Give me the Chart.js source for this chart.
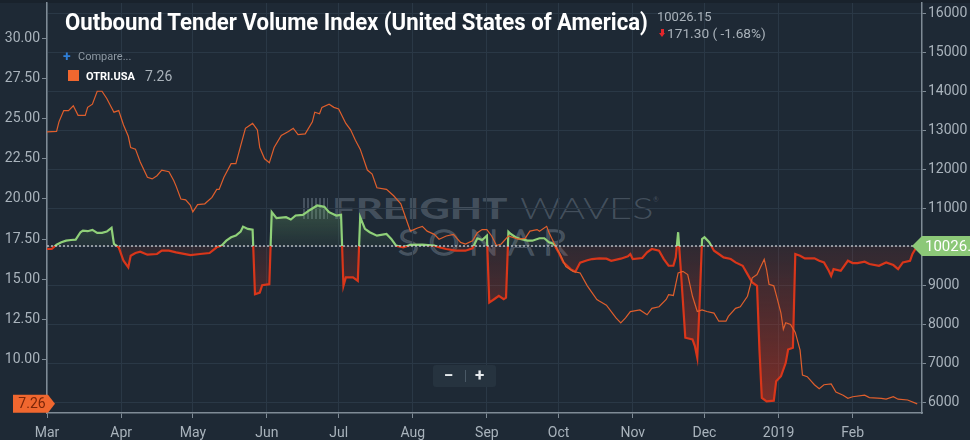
<!DOCTYPE html>
<html>
<head>
<meta charset="utf-8">
<script src="https://cdn.jsdelivr.net/npm/chart.js@4.4.1/dist/chart.umd.min.js"></script>
<style>
  html, body { margin: 0; padding: 0; background: #1e2935; }
  #wrap { position: relative; width: 970px; height: 440px; background: #1e2935; overflow: hidden; font-family: Roboto, sans-serif; }
  #topbar { position: absolute; left: 0; top: 0; width: 970px; height: 3px; background: #19222c; }
  #chart { position: absolute; left: 0; top: 0; }
  .ov { position: absolute; white-space: nowrap; pointer-events: none; transform-origin: 0 0; }
  #title { left: 65px; top: 10px; font: 700 24px/24px Roboto, sans-serif; color: #fff; }
  #last { left: 657px; top: 10px; font: 13px/13px Roboto, sans-serif; color: #a9b2ba; }
  #chg { left: 667px; top: 27px; font: 13px/13px Roboto, sans-serif; color: #a9b2ba; }
  #arrow { position: absolute; left: 659px; top: 29px; width: 7px; height: 8px; }
  #arrow:before { content: ''; position: absolute; left: 2px; top: 0; width: 3px; height: 4px; background: #e3262b; }
  #arrow:after { content: ''; position: absolute; left: 0; top: 4px; border-left: 3.5px solid transparent; border-right: 3.5px solid transparent; border-top: 4px solid #e3262b; }
  #cmpPlus { left: 63px; top: 49px; font: 700 14px/14px Roboto, sans-serif; color: #2f7fd8; }
  #cmp { left: 78px; top: 51px; font: 11px/11px Roboto, sans-serif; color: #8e99a3; }
  #sw { position: absolute; left: 68px; top: 70px; width: 11px; height: 11px; background: #f0672f; }
  #otriName { left: 86px; top: 71px; font: 700 11px/11px Roboto, sans-serif; color: #fff; }
  #otriVal { left: 145px; top: 69px; font: 14px/14px Roboto, sans-serif; color: #a9b2ba; }
  #bars { position: absolute; left: 303px; top: 198px; width: 25px; height: 21px;
    background: repeating-linear-gradient(90deg, rgba(150,165,180,0.32) 0 2px, transparent 2px 4px); }
  #wmBold { left: 332px; top: 193px; font: 900 29px/29px Lato, sans-serif; color: rgba(150,165,180,0.32); }
  #wmLight { left: 520px; top: 193px; font: 300 29px/29px Lato, sans-serif; color: rgba(150,165,180,0.32); }
  #wmReg { left: 653px; top: 196px; font: 7px/7px Lato, sans-serif; color: rgba(150,165,180,0.32); }
  #wmSonar { left: 398px; top: 224px; font: 300 35px/35px Lato, sans-serif; color: transparent;
    -webkit-text-stroke: 1.5px rgba(150,165,180,0.36); letter-spacing: 8px; }
  #zoomBox { position: absolute; left: 433px; top: 365px; width: 63px; height: 22px; background: #26333f; border-radius: 3px; }
  #zoomBox span { position: absolute; top: 2px; font: 700 17px/17px Roboto, sans-serif; color: #e8ecef; }
  #zoomBox i { position: absolute; left: 32px; top: 5px; width: 1px; height: 12px; background: #4a5966; }
</style>
</head>
<body>
<div id="wrap">
  <div id="topbar"></div>
  <div id="bars"></div>
  <div class="ov" id="wmBold">FREIGHT</div>
  <div class="ov" id="wmLight">WAVES</div>
  <div class="ov" id="wmReg">®</div>
  <div class="ov" id="wmSonar">SONAR</div>
  <canvas id="chart" width="970" height="440"></canvas>
  <div class="ov" id="title">Outbound Tender Volume Index (United States of America)</div>
  <div class="ov" id="last">10026.15</div>
  <div id="arrow"></div>
  <div class="ov" id="chg">171.30 ( -1.68%)</div>
  <div class="ov" id="cmpPlus">+</div>
  <div class="ov" id="cmp">Compare...</div>
  <div id="sw"></div>
  <div class="ov" id="otriName">OTRI.USA</div>
  <div class="ov" id="otriVal">7.26</div>
  <div id="zoomBox"><span style="left:11px">−</span><i></i><span style="left:42px">+</span></div>
</div>
<script>
// x values are days counted from 2018-03-01
const monthDays = [0, 31, 61, 92, 122, 153, 184, 214, 245, 275, 306, 337];
const monthLabels = ['Mar', 'Apr', 'May', 'Jun', 'Jul', 'Aug', 'Sep', 'Oct', 'Nov', 'Dec', '2019', 'Feb'];
const otriTicks = [10, 12.5, 15, 17.5, 20, 22.5, 25, 27.5, 30];
const volTicks = [6000, 7000, 8000, 9000, 10000, 11000, 12000, 13000, 14000, 15000, 16000];

const volBaseline = 10026.15;
const otriLast = 7.26;

// OTRI.USA (left axis) [day, value]
const otriSeries = [
  [0, 24.17], [4, 24.2], [5, 24.8], [7, 25.5], [9, 25.5], [11, 25.8], [13, 25.2], [16, 25.2],
  [17, 25.7], [19, 25.9], [21, 26.7], [23, 26.7], [25, 26.25], [28, 25.4], [30, 25.5], [32, 24.6],
  [34, 23.9], [35, 23.2], [37, 23.1], [39, 22.3], [42, 21.35], [44, 21.25], [46, 21.45], [48, 21.8],
  [51, 21.7], [53, 21.15], [54, 20.8], [56, 20.0], [58, 19.95], [60, 19.6], [61, 19.2], [63, 19.65],
  [66, 19.7], [69, 20.1], [71, 20.6], [72, 20.6], [74, 21.35], [77, 22.2], [79, 22.2], [81, 23.3],
  [83, 24.4], [86, 24.7], [88, 24.3], [89, 23.2], [91, 22.5], [93, 22.25], [95, 23.2], [98, 23.95],
  [101, 24.2], [103, 24.4], [105, 24.0], [108, 24.05], [111, 24.8], [112, 25.4], [114, 25.3], [115, 25.7],
  [118, 25.9], [120, 25.7], [122, 25.6], [125, 24.7], [127, 24.3], [129, 23.65], [131, 23.1], [134, 21.8],
  [136, 21.55], [138, 20.7], [142, 20.6], [145, 20.2], [148, 19.7], [150, 18.85], [152, 18.0], [155, 18.2],
  [157, 18.3], [159, 18.0], [162, 17.8], [164, 17.5], [167, 17.7], [170, 17.8], [173, 17.3], [175, 17.2],
  [178, 17.4], [180, 17.9], [182, 18.1], [184, 18.1], [186, 17.7], [188, 17.1], [190, 17.2], [193, 17.7],
  [197, 17.5], [200, 17.55], [202, 18.0], [205, 18.1], [206, 18.0], [209, 18.3], [210, 17.9], [212, 17.3],
  [215, 16.45], [217, 15.8], [220, 15.5], [223, 15.4], [226, 14.6], [230, 13.75], [231, 13.65], [234, 13.4],
  [238, 12.6], [240, 12.3], [242, 12.6], [244, 13.0], [248, 13.1], [251, 12.8], [253, 13.2], [256, 13.3],
  [259, 13.75], [260, 14.05], [262, 14.0], [264, 15.4], [266, 15.5], [268, 15.3], [270, 13.95], [272, 13.0],
  [274, 13.1], [276, 13.0], [279, 12.9], [281, 12.4], [284, 12.4], [285, 12.7], [288, 13.2], [290, 13.3],
  [293, 13.95], [295, 15.1], [297, 15.3], [300, 16.25], [301, 15.6], [302, 14.7], [304, 14.6], [305, 14.05],
  [307, 12.9], [308, 11.9], [309, 12.3], [311, 12.2], [313, 11.7], [315, 10.6], [316, 9.05], [318, 8.95],
  [321, 8.45], [323, 8.2], [325, 8.45], [328, 8.5], [330, 8.0], [333, 7.8], [335, 7.6], [337, 7.7],
  [342, 7.8], [344, 7.65], [349, 7.6], [351, 7.55], [354, 7.7], [356, 7.55], [360, 7.5], [364, 7.26]
];

// Outbound Tender Volume Index (right axis) [day, value]
const volSeries = [
  [0, 9948], [2, 9948], [4, 10060], [6, 10120], [8, 10162], [10, 10180], [12, 10188], [14, 10379],
  [15, 10420], [17, 10405], [19, 10438], [21, 10361], [23, 10361], [25, 10395], [27, 10490], [28, 10077],
  [29, 10034], [30, 9992], [32, 9647], [34, 9477], [35, 9776], [37, 9845], [39, 9880], [42, 9802],
  [46, 9820], [48, 9905], [51, 9905], [54, 9863], [60, 9794], [64, 9820], [68, 9845], [71, 9992],
  [73, 10034], [75, 10162], [77, 10250], [79, 10291], [81, 10394], [82, 10523], [84, 10464], [86, 10446],
  [87, 8789], [89, 8832], [90, 9020], [93, 9046], [94, 10894], [96, 10740], [100, 10765], [102, 10704],
  [104, 10807], [107, 10824], [110, 10950], [113, 11064], [116, 11030], [118, 10894], [121, 10807], [123, 10824],
  [124, 9003], [125, 9219], [128, 9219], [130, 9132], [131, 10765], [133, 10464], [135, 10379], [138, 10291],
  [142, 10335], [144, 10206], [146, 10034], [149, 9992], [152, 10052], [157, 10060], [162, 10034], [164, 9992],
  [167, 9948], [171, 9905], [175, 9905], [178, 9966], [180, 10224], [182, 10180], [184, 10291], [185, 8575],
  [187, 8660], [189, 8745], [191, 8660], [192, 8703], [193, 10394], [194, 10335], [196, 10250], [198, 10206],
  [201, 10162], [203, 10162], [206, 10224], [208, 10224], [210, 10121], [212, 10077], [214, 9863], [216, 9606],
  [219, 9433], [221, 9364], [223, 9600], [226, 9660], [228, 9691], [231, 9708], [234, 9700], [236, 9647],
  [240, 9700], [243, 9760], [244, 9820], [245, 9691], [249, 9717], [251, 9863], [253, 9948], [256, 9905],
  [258, 9691], [260, 9519], [262, 9519], [263, 9734], [264, 10379], [265, 9519], [267, 7673], [270, 7629],
  [271, 7457], [272, 7157], [273, 8600], [274, 10206], [275, 10250], [277, 10121], [279, 9905], [281, 9820],
  [283, 9734], [286, 9691], [288, 9605], [291, 9519], [293, 9304], [295, 9090], [297, 9003], [298, 7371],
  [299, 6127], [301, 6039], [304, 6057], [305, 6555], [307, 6684], [309, 7029], [310, 7371], [312, 7415],
  [313, 9820], [315, 9776], [317, 9708], [321, 9708], [323, 9647], [325, 9605], [327, 9389], [328, 9260],
  [329, 9433], [332, 9389], [335, 9647], [337, 9588], [339, 9588], [342, 9622], [344, 9562], [348, 9519],
  [351, 9605], [354, 9536], [356, 9433], [358, 9605], [361, 9647], [362, 9820], [364, 10026.15]
];

const GREEN = '#8fd079';
const RED = '#d9361a';
const ORANGE = '#df5e2c';
const TICK_COLOR = '#a9b3bc';
const AXIS_COLOR = '#7f8b96';
const GRID_COLOR = '#2a3846';

const toPoints = (serie) => serie.map(([x, y]) => ({ x, y }));

function greenFill(context) {
  const { chart } = context;
  const area = chart.chartArea;
  if (!area) return 'rgba(120,190,110,0.15)';
  const s = chart.scales.yVol;
  const yTop = s.getPixelForValue(Math.max(...volSeries.map((p) => p[1])));
  const yBase = s.getPixelForValue(volBaseline);
  const g = chart.ctx.createLinearGradient(0, yTop, 0, yBase);
  g.addColorStop(0, 'rgba(120,190,110,0.28)');
  g.addColorStop(1, 'rgba(120,190,110,0.05)');
  return g;
}

function redFill(context) {
  const { chart } = context;
  const area = chart.chartArea;
  if (!area) return 'rgba(200,50,30,0.25)';
  const s = chart.scales.yVol;
  const yBase = s.getPixelForValue(volBaseline);
  const yBot = s.getPixelForValue(Math.min(...volSeries.map((p) => p[1])));
  const g = chart.ctx.createLinearGradient(0, yBase, 0, yBot);
  g.addColorStop(0, 'rgba(200,50,30,0.1)');
  g.addColorStop(1, 'rgba(200,50,30,0.55)');
  return g;
}

// draws the volume line green above the baseline and red below it
const baselineClip = {
  id: 'baselineClip',
  beforeDatasetDraw(chart, args) {
    const side = chart.data.datasets[args.index].clipSide;
    if (!side) return;
    const a = chart.chartArea;
    const y = chart.scales.yVol.getPixelForValue(volBaseline);
    const ctx = chart.ctx;
    ctx.save();
    ctx.beginPath();
    if (side === 'above') ctx.rect(a.left - 5, a.top - 5, a.width + 10, y - a.top + 5);
    else ctx.rect(a.left - 5, y, a.width + 10, a.bottom - y + 5);
    ctx.clip();
  },
  afterDatasetDraw(chart, args) {
    if (chart.data.datasets[args.index].clipSide) chart.ctx.restore();
  }
};

const markers = {
  id: 'markers',
  afterDatasetsDraw(chart) {
    const ctx = chart.ctx;
    const a = chart.chartArea;
    const y = chart.scales.yVol.getPixelForValue(volBaseline);
    ctx.save();
    ctx.strokeStyle = 'rgba(205,210,215,0.85)';
    ctx.lineWidth = 1.5;
    ctx.setLineDash([2, 2]);
    ctx.beginPath();
    ctx.moveTo(a.left, y);
    ctx.lineTo(a.right, y);
    ctx.stroke();
    ctx.restore();
  },
  afterDraw(chart) {
    const ctx = chart.ctx;
    const a = chart.chartArea;
    ctx.save();
    // last value tag on the right axis
    const yv = chart.scales.yVol.getPixelForValue(volBaseline);
    ctx.fillStyle = '#8cc878';
    ctx.beginPath();
    ctx.moveTo(a.right - 10, yv);
    ctx.lineTo(a.right, yv - 10);
    ctx.lineTo(chart.width + 5, yv - 10);
    ctx.lineTo(chart.width + 5, yv + 10);
    ctx.lineTo(a.right, yv + 10);
    ctx.closePath();
    ctx.fill();
    ctx.fillStyle = '#ffffff';
    ctx.font = '15px Roboto';
    ctx.textBaseline = 'middle';
    ctx.textAlign = 'left';
    ctx.fillText(volBaseline.toFixed(1), a.right + 3, yv + 1);
    // last value tag on the left axis
    const yo = chart.scales.yOtri.getPixelForValue(otriLast);
    ctx.fillStyle = '#f0672f';
    ctx.beginPath();
    ctx.moveTo(13, yo - 9);
    ctx.lineTo(a.left + 1, yo - 9);
    ctx.lineTo(a.left + 8, yo);
    ctx.lineTo(a.left + 1, yo + 9);
    ctx.lineTo(13, yo + 9);
    ctx.closePath();
    ctx.fill();
    ctx.fillStyle = '#7a2609';
    ctx.font = '14px Roboto';
    ctx.textAlign = 'center';
    ctx.fillText(otriLast.toFixed(2), 32, yo + 1);
    ctx.restore();
  }
};

Chart.defaults.font.family = 'Roboto, sans-serif';
Chart.defaults.font.size = 14;
Chart.defaults.color = TICK_COLOR;

const volBase = {
  data: toPoints(volSeries),
  yAxisID: 'yVol',
  borderWidth: 2.2,
  pointRadius: 0,
  tension: 0,
  order: 1
};

// y axes: no extra room for half tick labels, the plot starts right under the top strip
const fixedY = (width) => (s) => {
  s.width = width;
  s.paddingTop = 0;
  s.paddingBottom = 0;
};

const chart = new Chart(document.getElementById('chart').getContext('2d'), {
  type: 'line',
  data: {
    datasets: [
      {
        label: 'OTRI.USA',
        data: toPoints(otriSeries),
        yAxisID: 'yOtri',
        borderColor: ORANGE,
        borderWidth: 1.2,
        pointRadius: 0,
        tension: 0,
        fill: false,
        order: 0
      },
      {
        ...volBase,
        label: 'Outbound Tender Volume Index',
        borderColor: GREEN,
        backgroundColor: greenFill,
        fill: { value: volBaseline, below: 'rgba(0,0,0,0)' },
        clipSide: 'above'
      },
      {
        ...volBase,
        label: 'Outbound Tender Volume Index ',
        borderColor: RED,
        backgroundColor: redFill,
        fill: { value: volBaseline, above: 'rgba(0,0,0,0)' },
        clipSide: 'below'
      }
    ]
  },
  options: {
    responsive: false,
    animation: false,
    events: [],
    layout: { padding: { top: 3, left: 0, right: 0, bottom: 0 } },
    plugins: { legend: { display: false }, tooltip: { enabled: false } },
    scales: {
      x: {
        type: 'linear',
        min: 0,
        max: 366,
        afterBuildTicks: (s) => { s.ticks = monthDays.map((v) => ({ value: v })); },
        afterFit: (s) => { s.height = 27; },
        ticks: {
          autoSkip: false,
          maxRotation: 0,
          padding: 7,
          callback: (v) => monthLabels[monthDays.indexOf(v)]
        },
        grid: { color: GRID_COLOR, tickColor: AXIS_COLOR, tickLength: 5 },
        border: { color: AXIS_COLOR, width: 1.5 }
      },
      yOtri: {
        position: 'left',
        min: 6.69,
        max: 32.19,
        afterBuildTicks: (s) => { s.ticks = otriTicks.map((v) => ({ value: v })); },
        afterFit: fixedY(47),
        ticks: { padding: 2, callback: (v) => v.toFixed(2) },
        grid: { drawOnChartArea: false, tickColor: AXIS_COLOR, tickLength: 5 },
        border: { color: AXIS_COLOR, width: 1.5 }
      },
      yVol: {
        position: 'right',
        min: 5742,
        max: 16258,
        afterBuildTicks: (s) => { s.ticks = volTicks.map((v) => ({ value: v })); },
        afterFit: fixedY(48),
        ticks: { padding: 2, callback: (v) => String(v) },
        grid: { color: GRID_COLOR, tickColor: AXIS_COLOR, tickLength: 4 },
        border: { color: AXIS_COLOR, width: 1.5 }
      }
    }
  },
  plugins: [baselineClip, markers]
});

// squeeze a text box to the width it takes in the original
function fitWidth(id, width) {
  const el = document.getElementById(id);
  el.style.transform = `scaleX(${width / el.scrollWidth})`;
}
fitWidth('title', 583);
fitWidth('wmBold', 176);
fitWidth('wmLight', 133);
fitWidth('wmSonar', 178);
fitWidth('chg', 99);
</script>
</body>
</html>
